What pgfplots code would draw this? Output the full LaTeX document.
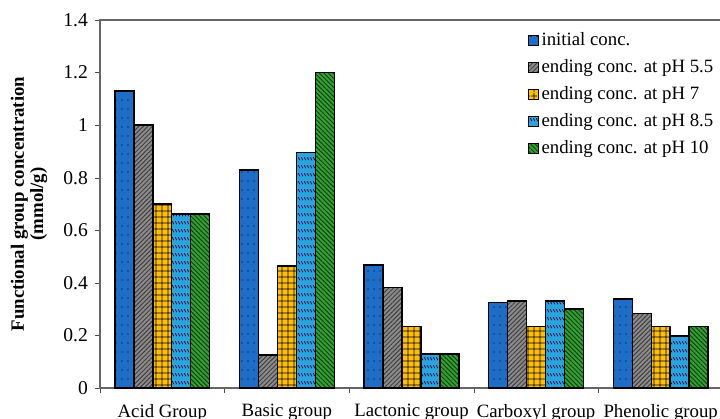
\documentclass[border=0pt]{standalone}
\usepackage{fontspec}
\setmainfont{Liberation Serif}
\usepackage{pgfplots}
\pgfplotsset{compat=1.18}
\usetikzlibrary{patterns,patterns.meta}

\definecolor{cblue}{RGB}{30,110,200}
\definecolor{cgrey}{RGB}{140,140,140}
\definecolor{cyell}{RGB}{255,192,0}
\definecolor{ccyan}{RGB}{43,163,223}
\definecolor{cgreen}{RGB}{61,155,61}

% fill patterns of the five series
\tikzdeclarepattern{name=sdots, type=uncolored,
  bottom left={(0pt,0pt)}, top right={(3pt,4.5pt)}, tile size={(3pt,4.5pt)},
  code={\fill (1.5pt,2.25pt) circle (0.35pt);}}
\tikzdeclarepattern{name=sgrid, type=uncolored,
  bottom left={(0pt,0pt)}, top right={(3.2pt,3.2pt)}, tile size={(3.2pt,3.2pt)},
  code={\draw[line width=0.45pt] (0pt,1.6pt) -- (3.2pt,1.6pt) (1.6pt,0pt) -- (1.6pt,3.2pt);}}
\tikzdeclarepattern{name=swave, type=uncolored,
  bottom left={(0pt,0pt)}, top right={(1.6pt,4pt)}, tile size={(1.6pt,4pt)},
  code={\draw[line width=0.4pt] (0.2pt,2.8pt) -- (1.2pt,1.4pt);}}

\newcommand{\fs}{\fontsize{9.4}{11}\selectfont}

\begin{document}
\begin{tikzpicture}
\begin{axis}[
  name=ax,
  scale only axis,
  width=311.5pt, height=184pt,
  xmin=-0.5, xmax=4.5,
  ymin=0, ymax=1.4,
  ybar=0pt, bar width=0.152,
  xtick={0,1,2,3,4},
  xticklabels={Acid Group,Basic group,Lactonic group,Carboxyl group,Phenolic group},
  major x tick style={draw=none},
  minor xtick={-0.5,0.5,1.5,2.5,3.5},
  minor tick length=2.5pt,
  ytick={0,0.2,0.4,0.6,0.8,1,1.2,1.4},
  major tick length=2.5pt,
  tick align=outside,
  y tick style={black!70},
  minor x tick style={black!70},
  xtick pos=bottom, ytick pos=left,
  axis line style={black!60, line width=0.6pt},
  tick label style={font=\fs},
  yticklabel style={font=\fontsize{9.8}{11}\selectfont},
  xticklabel style={yshift=-2pt},
  /pgf/number format/assume math mode=true,
  ylabel={Functional group concentration\\(mmol/g)},
  ylabel style={at={(axis description cs:-0.114,0.5)}, anchor=center,
    align=center, font=\bfseries\fontsize{9.4}{9.6}\selectfont},
  legend style={at={(0.677,0.985)}, anchor=north west, draw=none, fill=none,
    font=\fs, row sep=3.1pt, nodes={inner sep=1.2pt},
    /tikz/every even column/.append style={xshift=1pt}},
  legend cell align=left,
  legend image code/.code={\draw[#1, line width=0.5pt] (0pt,-2.5pt) rectangle (5pt,2.5pt);},
]
\addplot[draw=black, line width=0.7pt, preaction={fill=cblue},
  pattern=sdots, pattern color=black]
  coordinates {(0,1.13) (1,0.829) (2,0.468) (3,0.326) (4,0.339)};
\addplot[draw=black, line width=0.7pt, preaction={fill=cgrey},
  pattern={Lines[angle=45,distance=1.6pt,line width=0.5pt]}, pattern color=black!75]
  coordinates {(0,1.0) (1,0.125) (2,0.383) (3,0.331) (4,0.284)};
\addplot[draw=black, line width=0.7pt, preaction={fill=cyell},
  pattern=sgrid, pattern color=black]
  coordinates {(0,0.70) (1,0.464) (2,0.233) (3,0.233) (4,0.233)};
\addplot[draw=black, line width=0.7pt, preaction={fill=ccyan},
  pattern=swave, pattern color=black!80!blue]
  coordinates {(0,0.662) (1,0.896) (2,0.13) (3,0.331) (4,0.198)};
\addplot[draw=black, line width=0.7pt, preaction={fill=cgreen},
  pattern={Lines[angle=-45,distance=1.6pt,line width=0.5pt]}, pattern color=black!70!green]
  coordinates {(0,0.662) (1,1.20) (2,0.13) (3,0.30) (4,0.233)};
\legend{initial conc.,ending conc. at pH 5.5,ending conc. at pH 7,ending conc. at pH 8.5,ending conc. at pH 10}
\end{axis}
\pgfresetboundingbox
\useasboundingbox ([shift={(-50pt,-15.5pt)}]ax.south west) rectangle ([shift={(310pt,194pt)}]ax.south west);
\end{tikzpicture}
\end{document}
